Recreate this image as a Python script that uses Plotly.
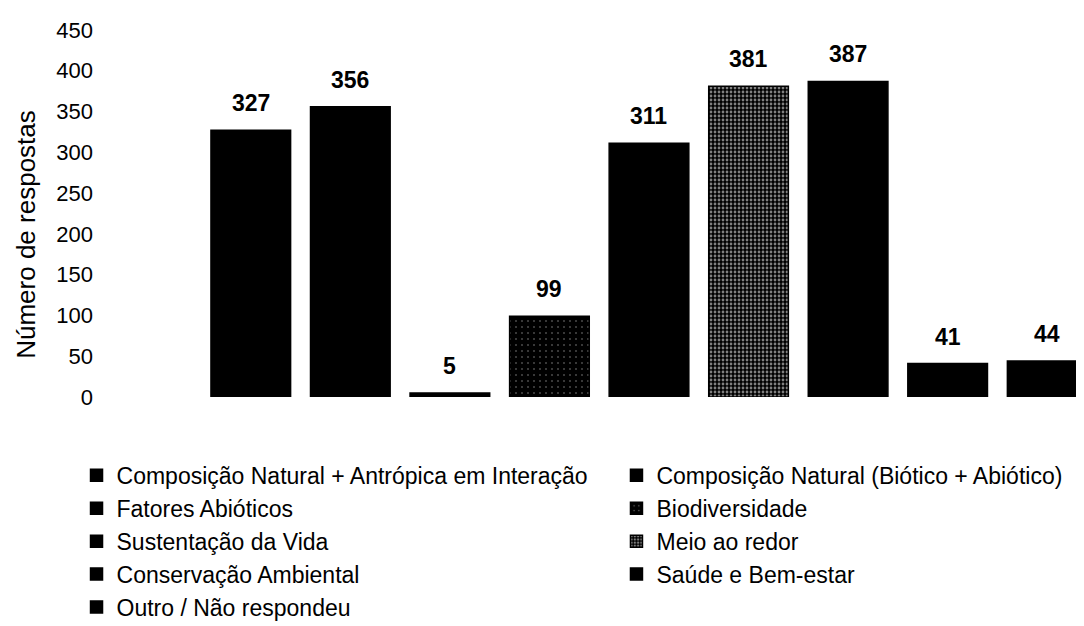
import plotly.graph_objects as go

# Categories and response counts
categorias = [
    "Composição Natural + Antrópica em Interação",
    "Composição Natural (Biótico + Abiótico)",
    "Fatores Abióticos",
    "Biodiversidade",
    "Sustentação da Vida",
    "Meio ao redor",
    "Conservação Ambiental",
    "Saúde e Bem-estar",
    "Outro / Não respondeu",
]
respostas = [327, 356, 5, 99, 311, 381, 387, 41, 44]
y_ticks = [0, 50, 100, 150, 200, 250, 300, 350, 400, 450]

# Fill style per bar: (white speckle size, solidity) over black; None = solid black
textura = [None, None, None, (6, 0.06), None, (4, 0.38), None, None, None]

FONT = "Liberation Sans, Arial, sans-serif"

fig = go.Figure()

for i, (cat, val) in enumerate(zip(categorias, respostas)):
    tex = textura[i]
    pattern = dict(shape=".", fgcolor="white", bgcolor="black",
                   size=tex[0], solidity=tex[1], fillmode="overlay") if tex else None
    fig.add_trace(go.Bar(
        x=[i], y=[val],
        name=cat,
        legend="legend" if i % 2 == 0 else "legend2",
        marker=dict(color="black", line=dict(color="black", width=1.5),
                    pattern=pattern),
        width=0.8,
        hoverinfo="name+y",
    ))
    fig.add_annotation(
        x=i, y=val, text=f"<b>{val}</b>",
        showarrow=False, yanchor="bottom", yshift=12,
        font=dict(family=FONT, size=23, color="black"),
    )

# Y axis title
fig.add_annotation(
    xref="paper", yref="paper", x=-0.196, y=0.443,
    text="Número de respostas", textangle=-90, showarrow=False,
    xanchor="center", yanchor="middle", borderpad=0,
    font=dict(family=FONT, size=26, color="black"),
)

legend_style = dict(
    orientation="v", yanchor="top", y=-0.155,
    font=dict(family=FONT, size=23, color="black"),
    itemclick=False, itemdoubleclick=False, bgcolor="rgba(0,0,0,0)",
)

fig.update_layout(
    width=1084, height=626,
    margin=dict(l=193, r=0, t=22, b=237, autoexpand=False),
    paper_bgcolor="white",
    plot_bgcolor="white",
    barmode="overlay",
    showlegend=True,
    xaxis=dict(range=[-0.5, 8.45], showticklabels=False, showgrid=False,
               zeroline=False, showline=False, ticks=""),
    yaxis=dict(range=[0, 450], tickvals=y_ticks, showgrid=False,
               zeroline=False, showline=False, ticks="",
               ticklabelstandoff=107,
               tickfont=dict(family=FONT, size=22, color="black")),
    legend=dict(x=-0.1397, xanchor="left", **legend_style),
    legend2=dict(x=0.4663, xanchor="left", **legend_style),
)

fig.write_html("out.html")
